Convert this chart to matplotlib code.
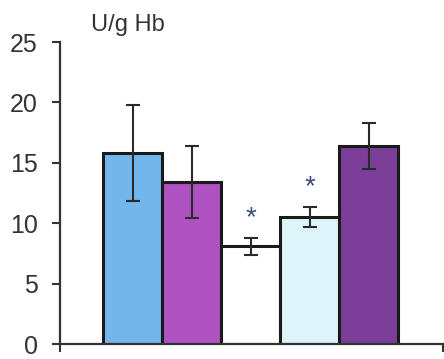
import numpy as np
import matplotlib
matplotlib.use("Agg")
import matplotlib.pyplot as plt

plt.rcParams['font.family'] = ['Liberation Sans', 'DejaVu Sans']

# data
groups = ["g1", "g2", "g3", "g4", "g5"]
means = [15.8, 13.4, 8.1, 10.5, 16.4]
errors = [4.0, 3.0, 0.7, 0.8, 1.9]
colors = ["#72b6ec", "#ae52c2", "#ffffff", "#ddf5fa", "#7a3e98"]
star_at = [None, None, 10.4, 13.0, None]
yticks = [0, 5, 10, 15, 20, 25]

fig = plt.figure(figsize=(4.44, 3.59), dpi=100)
ax = fig.add_axes([60/444, 15/359, 383/444, 302/359])

x = np.arange(len(groups))
ax.bar(x, means, width=1.0, color=colors, edgecolor="#1a1a1a", linewidth=2.2, zorder=2)
ax.errorbar(x, means, yerr=errors, fmt="none", ecolor="#2a2a2a",
            elinewidth=1.5, capsize=4.7, capthick=1.5, zorder=3)

for xi, s in zip(x, star_at):
    if s is not None:
        ax.text(xi, s, "*", ha="center", va="center", fontsize=20, color="#3b4b7c", zorder=4)

ax.set_xlim(-1.23, 5.26)
ax.set_ylim(0, 25)
ax.set_yticks(yticks)
ax.set_xticks([-1.23, 5.26])
ax.set_xticklabels([])

for side in ["top", "right"]:
    ax.spines[side].set_visible(False)
ax.spines["left"].set_linewidth(1.6)
ax.spines["bottom"].set_linewidth(1.6)
ax.spines["left"].set_color("#333333")
ax.spines["bottom"].set_color("#333333")

ax.tick_params(axis="y", direction="out", length=6, width=1.5, pad=10,
               labelsize=18, colors="#333333")
ax.tick_params(axis="x", direction="out", length=6, width=1.5, colors="#333333")

fig.text(128/444, 1 - 25/359, "U/g Hb", ha="center", va="center", fontsize=17, color="#333333")

fig.savefig("out.png", dpi=100)
